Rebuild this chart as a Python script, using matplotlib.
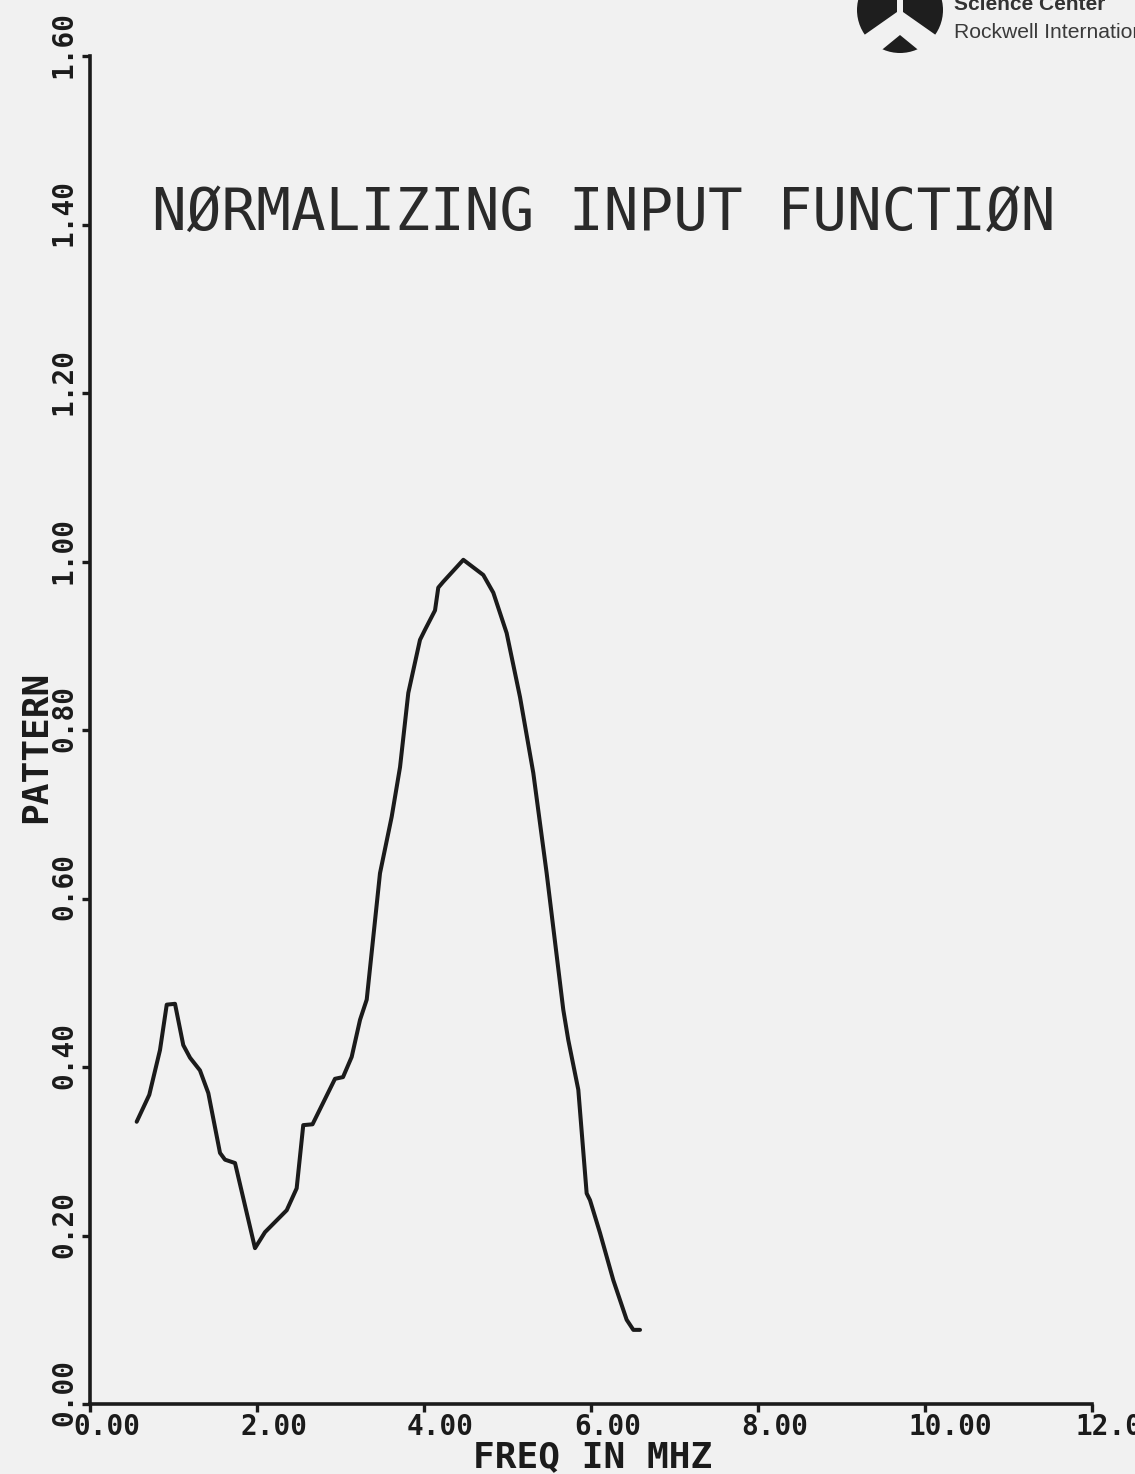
import matplotlib
matplotlib.use("Agg")
import matplotlib.pyplot as plt
from matplotlib.patches import Circle, Polygon
from matplotlib.transforms import ScaledTranslation

# normalizing input function
freq = [0.559, 0.710, 0.838, 0.898, 0.919, 1.018, 1.117, 1.198, 1.317, 1.417,
        1.557, 1.617, 1.737, 1.976, 2.096, 2.356, 2.475, 2.554, 2.665, 2.934,
        3.030, 3.134, 3.234, 3.314, 3.473, 3.613, 3.713, 3.812, 3.952, 4.012,
        4.132, 4.171, 4.231, 4.471, 4.710, 4.830, 4.990, 5.150, 5.309, 5.469,
        5.668, 5.728, 5.848, 5.948, 5.988, 6.108, 6.267, 6.427, 6.507, 6.587]
pattern = [0.335, 0.367, 0.420, 0.460, 0.474, 0.475, 0.426, 0.411, 0.396, 0.369,
           0.298, 0.290, 0.286, 0.185, 0.204, 0.230, 0.256, 0.331, 0.332, 0.386,
           0.388, 0.412, 0.456, 0.480, 0.630, 0.697, 0.756, 0.844, 0.907, 0.919,
           0.942, 0.969, 0.976, 1.002, 0.984, 0.963, 0.915, 0.839, 0.749, 0.630,
           0.468, 0.432, 0.373, 0.250, 0.242, 0.203, 0.147, 0.100, 0.088, 0.088]

x_ticks = [0, 2, 4, 6, 8, 10, 12]
x_ticklabels = ["0.00", "2.00", "4.00", "6.00", "8.00", "10.00", "12.00"]
y_ticks = [0.0, 0.2, 0.4, 0.6, 0.8, 1.0, 1.2, 1.4, 1.6]
y_ticklabels = ["0.00", "0.20", "0.40", "0.60", "0.80", "1.00", "1.20", "1.40", "1.60"]

title = "NØRMALIZING INPUT FUNCTIØN"
x_label = "FREQ IN MHZ"
y_label = "PATTERN"

W, H, DPI = 1135, 1474, 100
PAPER = "#f1f1f1"
INK = "#1b1b1b"
MONO = "DejaVu Sans Mono"

fig = plt.figure(figsize=(W / DPI, H / DPI), dpi=DPI, facecolor=PAPER)

# axes box in pixels: origin at (90, 1404), 83.5 px per MHz, 842.5 px per unit
x0, y0, w, h = 90, 1404, 12 * 83.5, 1.6 * 842.5
ax = fig.add_axes([x0 / W, 1 - y0 / H, w / W, h / H])
ax.set_facecolor("none")

ax.plot(freq, pattern, color=INK, lw=2.9, solid_joinstyle="round",
        solid_capstyle="round")

ax.set_xlim(0, 12)
ax.set_ylim(0, 1.6)
for side in ("top", "right"):
    ax.spines[side].set_visible(False)
for side in ("left", "bottom"):
    ax.spines[side].set_linewidth(2.6)
    ax.spines[side].set_color(INK)
ax.set_xticks(x_ticks)
ax.set_yticks(y_ticks)
ax.tick_params(direction="out", length=6, width=2.4, color=INK,
               labelleft=False, labelbottom=False)

# plotter-style tick labels, decimal point sitting near each tick
px = lambda dx, dy: ScaledTranslation(dx / DPI, dy / DPI, fig.dpi_scale_trans)
for v, lab in zip(y_ticks, y_ticklabels):
    ax.text(0, v, lab, transform=ax.get_yaxis_transform() + px(-18, -22),
            rotation=90, rotation_mode="anchor", ha="left", va="baseline",
            family=MONO, fontweight="bold", fontsize=20, color=INK)
for v, lab in zip(x_ticks, x_ticklabels):
    ax.text(v, 0, lab, transform=ax.get_xaxis_transform() + px(-17, -9),
            ha="left", va="top", family=MONO, fontweight="bold",
            fontsize=20, color=INK)

fig.text(473 / W, 1 - 1467 / H, x_label, ha="left", va="baseline",
         family=MONO, fontweight="bold", fontsize=26, color=INK)
fig.text(46 / W, 1 - 823 / H, y_label, rotation=90, rotation_mode="anchor",
         ha="left", va="baseline", family=MONO, fontweight="bold",
         fontsize=26, color=INK)
fig.text(152 / W, 1 - 230 / H, title, ha="left", va="baseline",
         family=MONO, fontsize=41.5, color="#2a2a2a")

# letterhead logo in the top right corner, drawn in pixel coordinates
deco = fig.add_axes([0, 0, 1, 1], zorder=-1)
deco.set_xlim(0, W)
deco.set_ylim(H, 0)
deco.axis("off")
deco.add_patch(Circle((900, 10), 43, color="#1e1e1e", lw=0))
deco.add_patch(Polygon([(897, -5), (897, 12), (860, 38), (878, 53), (900, 35),
                        (922, 53), (940, 38), (903, 12), (903, -5)],
                       closed=True, color=PAPER, lw=0))
deco.text(954, 10, "Science Center", ha="left", va="baseline",
          family="Liberation Sans", fontweight="bold", fontsize=15,
          color="#333333")
deco.text(954, 38, "Rockwell International", ha="left", va="baseline",
          family="Liberation Sans", fontsize=15.2, color="#3a3a3a")

fig.savefig("out.png", dpi=DPI, facecolor=PAPER)
